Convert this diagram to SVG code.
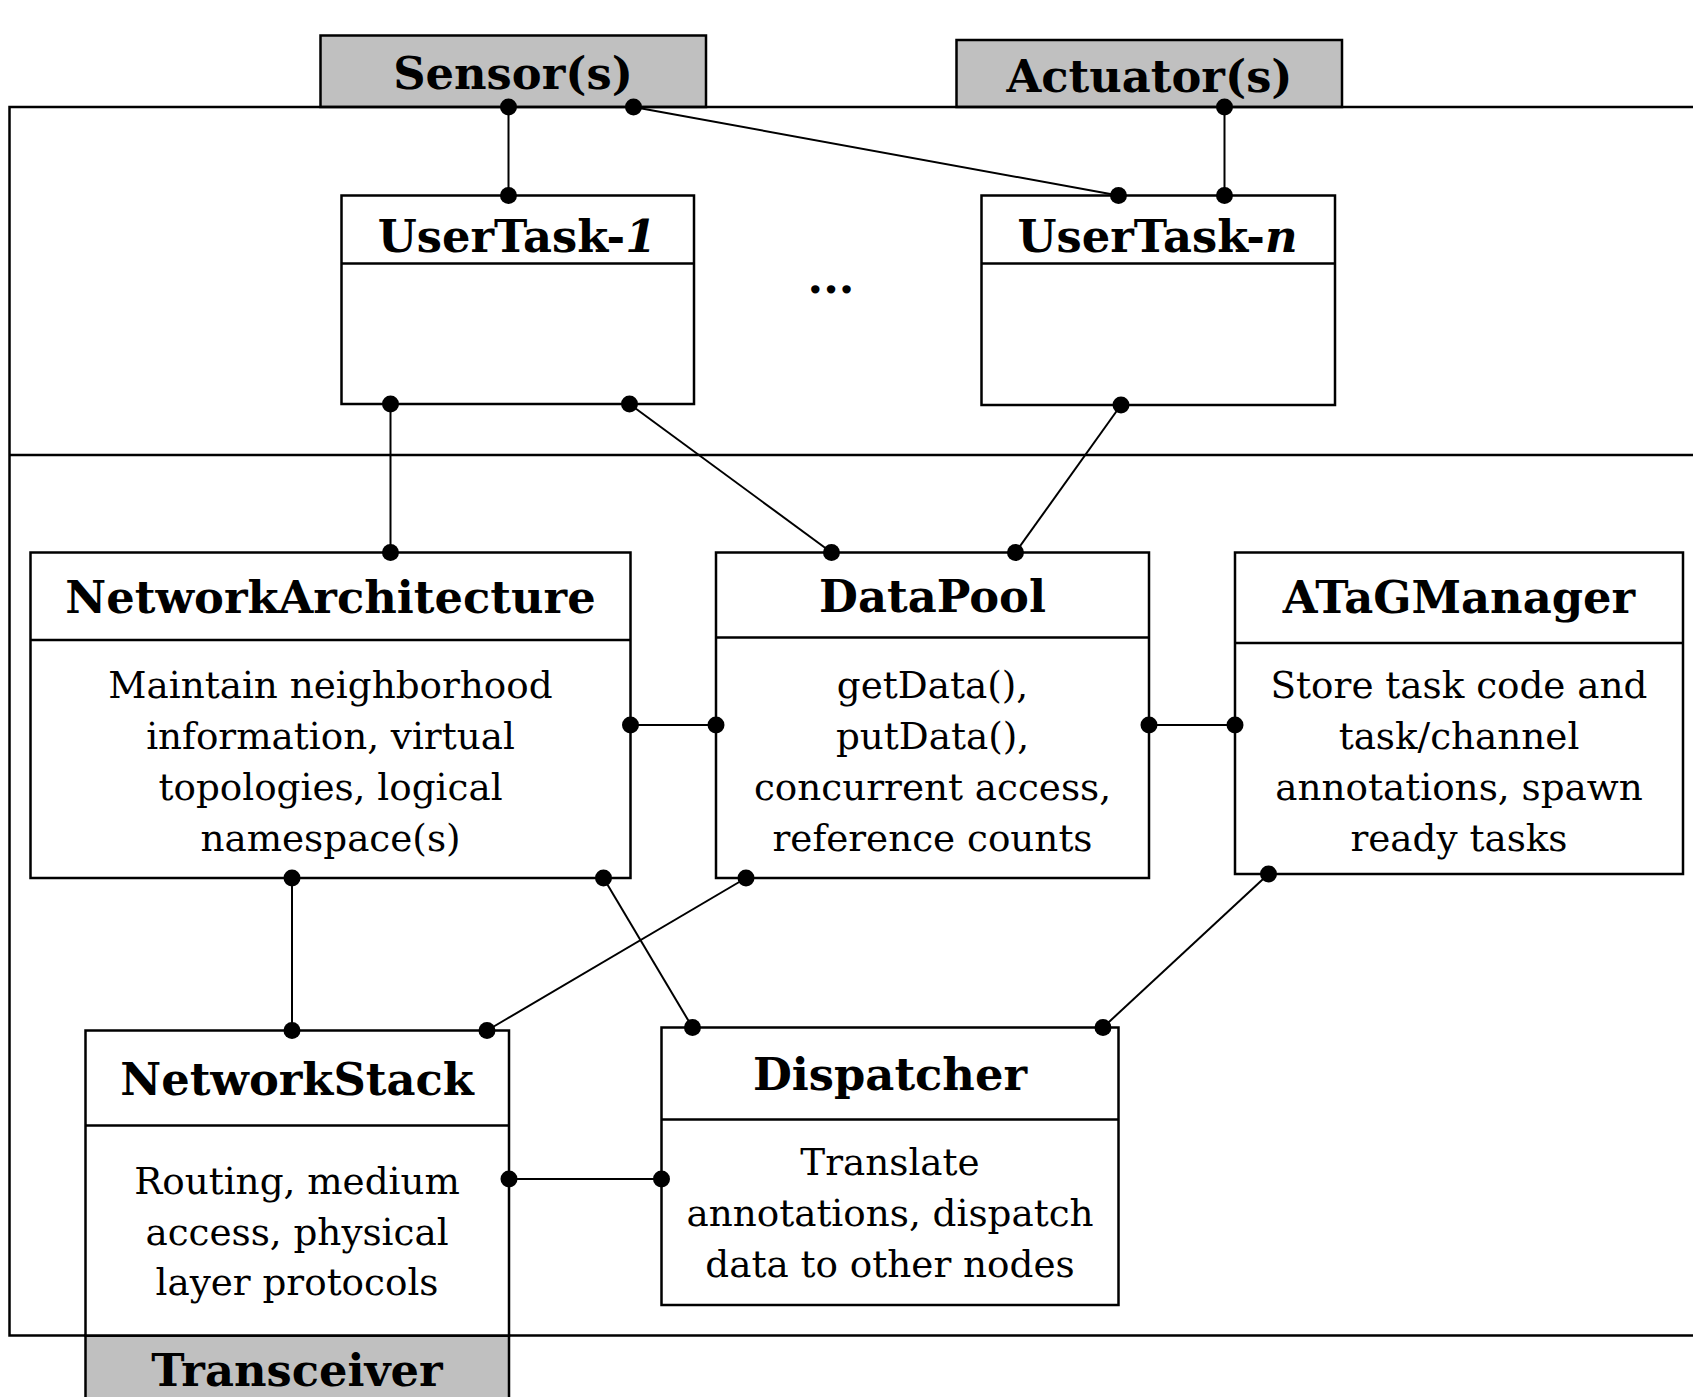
<svg xmlns="http://www.w3.org/2000/svg" width="1693" height="1397" viewBox="0 0 1693 1397">
  <style>
    .box { fill: #ffffff; stroke: #000000; stroke-width: 2.5; }
    .dev { fill: #c0c0c0; stroke: #000000; stroke-width: 2.5; }
    .div { stroke: #000000; stroke-width: 2.5; fill: none; }
    .frame { stroke: #000000; stroke-width: 2.5; fill: none; }
    .wire { stroke: #000000; stroke-width: 2; fill: none; }
    .dot { fill: #000000; }
    .title { font-family: "DejaVu Serif", "Liberation Serif", serif; font-weight: bold; font-size: 44.8px; text-anchor: middle; fill: #000000; }
    .body { font-family: "DejaVu Serif", "Liberation Serif", serif; font-size: 37.3px; text-anchor: middle; fill: #000000; }
  </style>

  <rect width="1693" height="1397" fill="#ffffff"/>

  <!-- external devices -->
  <g id="sensors">
    <rect class="dev" x="320.5" y="35.5" width="385.5" height="71.5"/>
    <text class="title" x="513" y="89" font-size="47">Sensor(s)</text>
  </g>
  <g id="actuators">
    <rect class="dev" x="956.5" y="40" width="385.5" height="67"/>
    <text class="title" x="1149.5" y="92" font-size="47">Actuator(s)</text>
  </g>
  <g id="transceiver">
    <rect class="dev" x="85.5" y="1335.5" width="423.5" height="70"/>
    <text class="title" x="297" y="1386" font-size="47">Transceiver</text>
  </g>

  <!-- node boundary and user/system layer split -->
  <g id="frame">
    <path class="frame" d="M1700,107 H9.5 V1335.5 H1700"/>
    <line class="frame" x1="9.5" y1="455" x2="1700" y2="455"/>
  </g>

  <!-- user tasks -->
  <g id="usertask-1">
    <rect class="box" x="341.5" y="195.5" width="352.5" height="208.5"/>
    <line class="div" x1="341.5" y1="263.5" x2="694" y2="263.5"/>
    <text class="title" x="517" y="251.5">UserTask-<tspan font-style="italic">1</tspan></text>
  </g>
  <g id="ellipsis">
    <text class="title" x="831" y="293" font-size="40">...</text>
  </g>
  <g id="usertask-n">
    <rect class="box" x="981.5" y="195.5" width="353.5" height="209.5"/>
    <line class="div" x1="981.5" y1="263.5" x2="1335" y2="263.5"/>
    <text class="title" x="1157.5" y="251.5">UserTask-<tspan font-style="italic">n</tspan></text>
  </g>

  <!-- system components -->
  <g id="network-architecture">
    <rect class="box" x="30.5" y="552.5" width="600" height="325.5"/>
    <line class="div" x1="30.5" y1="640" x2="630.5" y2="640"/>
    <text class="title" x="330.5" y="613">NetworkArchitecture</text>
    <text class="body" x="330.5" y="698">Maintain neighborhood</text>
    <text class="body" x="330.5" y="749">information, virtual</text>
    <text class="body" x="330.5" y="800">topologies, logical</text>
    <text class="body" x="330.5" y="851">namespace(s)</text>
  </g>
  <g id="datapool">
    <rect class="box" x="716" y="552.5" width="433" height="325.5"/>
    <line class="div" x1="716" y1="637.5" x2="1149" y2="637.5"/>
    <text class="title" x="932.5" y="612">DataPool</text>
    <text class="body" x="932.5" y="698">getData(),</text>
    <text class="body" x="932.5" y="749">putData(),</text>
    <text class="body" x="932.5" y="800">concurrent access,</text>
    <text class="body" x="932.5" y="851">reference counts</text>
  </g>
  <g id="atag-manager">
    <rect class="box" x="1235" y="552.5" width="448" height="321.5"/>
    <line class="div" x1="1235" y1="643" x2="1683" y2="643"/>
    <text class="title" x="1459" y="613">ATaGManager</text>
    <text class="body" x="1459" y="698">Store task code and</text>
    <text class="body" x="1459" y="749">task/channel</text>
    <text class="body" x="1459" y="800">annotations, spawn</text>
    <text class="body" x="1459" y="851">ready tasks</text>
  </g>
  <g id="network-stack">
    <rect class="box" x="85.5" y="1030.5" width="423.5" height="305"/>
    <line class="div" x1="85.5" y1="1125.5" x2="509" y2="1125.5"/>
    <text class="title" x="297" y="1095">NetworkStack</text>
    <text class="body" x="297" y="1194">Routing, medium</text>
    <text class="body" x="297" y="1245">access, physical</text>
    <text class="body" x="297" y="1295">layer protocols</text>
  </g>
  <g id="dispatcher">
    <rect class="box" x="661.5" y="1027.5" width="457" height="277.5"/>
    <line class="div" x1="661.5" y1="1119.5" x2="1118.5" y2="1119.5"/>
    <text class="title" x="890" y="1090">Dispatcher</text>
    <text class="body" x="890" y="1175">Translate</text>
    <text class="body" x="890" y="1226">annotations, dispatch</text>
    <text class="body" x="890" y="1277">data to other nodes</text>
  </g>

  <!-- connectors with round endpoints -->
  <g id="connectors">
    <line class="wire" x1="508.5" y1="107" x2="508.5" y2="195.5"/>
    <line class="wire" x1="633.5" y1="107" x2="1118.5" y2="195.5"/>
    <line class="wire" x1="1224.5" y1="107" x2="1224.5" y2="195.5"/>
    <line class="wire" x1="390.5" y1="404" x2="390.5" y2="552.5"/>
    <line class="wire" x1="629.5" y1="404" x2="831.5" y2="552.5"/>
    <line class="wire" x1="1121" y1="405" x2="1015.5" y2="552.5"/>
    <line class="wire" x1="630.5" y1="725" x2="716" y2="725"/>
    <line class="wire" x1="1149" y1="725" x2="1235" y2="725"/>
    <line class="wire" x1="292" y1="878" x2="292" y2="1030.5"/>
    <line class="wire" x1="603.5" y1="878" x2="692.5" y2="1027.5"/>
    <line class="wire" x1="746" y1="878" x2="487" y2="1030.5"/>
    <line class="wire" x1="1268.5" y1="874" x2="1103" y2="1027.5"/>
    <line class="wire" x1="509" y1="1179" x2="661.5" y2="1179"/>

    <circle class="dot" cx="508.5" cy="107" r="8.5"/>
    <circle class="dot" cx="508.5" cy="195.5" r="8.5"/>
    <circle class="dot" cx="633.5" cy="107" r="8.5"/>
    <circle class="dot" cx="1118.5" cy="195.5" r="8.5"/>
    <circle class="dot" cx="1224.5" cy="107" r="8.5"/>
    <circle class="dot" cx="1224.5" cy="195.5" r="8.5"/>
    <circle class="dot" cx="390.5" cy="404" r="8.5"/>
    <circle class="dot" cx="390.5" cy="552.5" r="8.5"/>
    <circle class="dot" cx="629.5" cy="404" r="8.5"/>
    <circle class="dot" cx="831.5" cy="552.5" r="8.5"/>
    <circle class="dot" cx="1121" cy="405" r="8.5"/>
    <circle class="dot" cx="1015.5" cy="552.5" r="8.5"/>
    <circle class="dot" cx="630.5" cy="725" r="8.5"/>
    <circle class="dot" cx="716" cy="725" r="8.5"/>
    <circle class="dot" cx="1149" cy="725" r="8.5"/>
    <circle class="dot" cx="1235" cy="725" r="8.5"/>
    <circle class="dot" cx="292" cy="878" r="8.5"/>
    <circle class="dot" cx="292" cy="1030.5" r="8.5"/>
    <circle class="dot" cx="603.5" cy="878" r="8.5"/>
    <circle class="dot" cx="692.5" cy="1027.5" r="8.5"/>
    <circle class="dot" cx="746" cy="878" r="8.5"/>
    <circle class="dot" cx="487" cy="1030.5" r="8.5"/>
    <circle class="dot" cx="1268.5" cy="874" r="8.5"/>
    <circle class="dot" cx="1103" cy="1027.5" r="8.5"/>
    <circle class="dot" cx="509" cy="1179" r="8.5"/>
    <circle class="dot" cx="661.5" cy="1179" r="8.5"/>
  </g>
</svg>
